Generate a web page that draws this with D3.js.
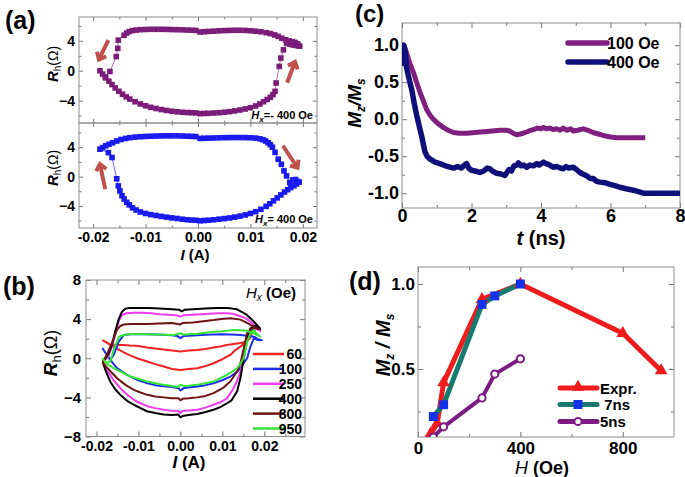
<!DOCTYPE html>
<html><head><meta charset="utf-8">
<script src="https://cdn.jsdelivr.net/npm/d3@7"></script>
<style>body{margin:0;background:#fff;} svg{display:block;}</style>
</head><body><svg id="c" width="685" height="477"></svg>
<script>
const FONT = '"Liberation Sans", Arial, sans-serif';

// ---------- Panel (a): Hall resistance loops, Hx = -400 Oe (purple) and +400 Oe (blue)
const loopNeg400 = [
 [0.0004,-5.75],[0.0012,-5.72],[0.002,-5.7],[0.003,-5.66],[0.004,-5.62],[0.005,-5.56],[0.006,-5.48],[0.007,-5.38],[0.008,-5.26],[0.009,-5.12],[0.010,-4.95],[0.011,-4.72],[0.0118,-4.45],[0.0125,-4.15],[0.0132,-3.85],[0.0138,-3.55],[0.0143,-3.2],[0.0147,-2.76],[0.0149,-1.64],
 [0.0155,0.58],[0.0158,1.7],[0.0163,2.8],[0.0169,3.7],
 [0.0175,3.55],[0.0179,3.5],[0.0183,3.45],[0.0187,3.4],[0.0191,3.35],[0.0194,3.3],
 [0.019,3.6],[0.0185,3.8],[0.018,3.9],[0.0174,4.0],[0.0167,4.15],[0.016,4.35],[0.0153,4.6],[0.0146,4.8],[0.0138,4.98],[0.013,5.1],[0.012,5.22],[0.011,5.3],[0.010,5.36],[0.009,5.4],[0.008,5.42],[0.007,5.42],[0.006,5.4],[0.005,5.38],[0.004,5.35],[0.003,5.3],[0.002,5.27],[0.0012,5.23],[0.0004,5.18],
 [-0.0004,5.4],[-0.0012,5.43],[-0.002,5.45],[-0.003,5.48],[-0.004,5.5],[-0.005,5.52],[-0.006,5.54],[-0.007,5.55],[-0.008,5.55],[-0.009,5.55],[-0.010,5.53],[-0.011,5.5],[-0.0118,5.45],[-0.0125,5.38],[-0.0131,5.25],[-0.0136,5.05],[-0.0141,4.75],
 [-0.0152,4.1],[-0.0153,3.0],[-0.0156,1.9],[-0.0168,-0.1],[-0.0177,-0.8],[-0.0187,0.0],
 [-0.0182,-0.45],[-0.0176,-0.95],[-0.017,-1.4],[-0.0164,-1.85],[-0.0158,-2.3],[-0.0151,-2.75],[-0.0144,-3.15],[-0.0137,-3.5],[-0.013,-3.8],[-0.012,-4.15],[-0.011,-4.45],[-0.010,-4.7],[-0.009,-4.9],[-0.008,-5.06],[-0.007,-5.2],[-0.006,-5.32],[-0.005,-5.42],[-0.004,-5.5],[-0.003,-5.56],[-0.002,-5.6],[-0.0012,-5.62],[-0.0004,-5.65]
];
const loopPos400 = [
 [-0.0004,-5.95],[-0.0012,-5.92],[-0.002,-5.88],[-0.003,-5.8],[-0.004,-5.7],[-0.005,-5.62],[-0.006,-5.52],[-0.007,-5.42],[-0.008,-5.3],[-0.009,-5.18],[-0.010,-5.02],[-0.011,-4.82],[-0.0118,-4.55],[-0.0125,-4.25],[-0.0131,-3.85],[-0.0136,-3.5],[-0.0141,-3.05],[-0.0145,-2.6],
 [-0.0149,-1.95],[-0.0152,-1.27],[-0.0155,-0.3],[-0.0164,2.6],[-0.0171,3.27],[-0.0187,3.73],
 [-0.0182,3.95],[-0.0176,4.2],[-0.017,4.4],[-0.0163,4.6],[-0.0155,4.85],[-0.0147,5.05],[-0.0138,5.2],[-0.013,5.3],[-0.012,5.38],[-0.011,5.43],[-0.010,5.47],[-0.009,5.5],[-0.008,5.52],[-0.007,5.54],[-0.006,5.55],[-0.005,5.55],[-0.004,5.55],[-0.003,5.53],[-0.002,5.5],[-0.0012,5.48],[-0.0004,5.45],
 [0.0004,5.2],[0.0012,5.22],[0.002,5.24],[0.003,5.26],[0.004,5.28],[0.005,5.3],[0.006,5.31],[0.007,5.32],[0.008,5.32],[0.009,5.31],[0.010,5.29],[0.011,5.24],[0.0118,5.15],[0.0124,5.02],[0.0129,4.85],[0.0134,4.6],[0.0138,4.35],[0.0142,4.0],
 [0.0147,3.3],[0.0153,2.37],[0.0159,1.68],[0.0164,0.78],[0.0169,0.1],[0.0175,-0.8],[0.0181,-0.45],[0.0186,-0.4],[0.019,-0.65],[0.0193,-0.75],
 [0.0188,-1.0],[0.0183,-1.25],[0.0177,-1.5],[0.0171,-1.78],[0.0165,-2.1],[0.0158,-2.5],[0.0151,-2.9],[0.0144,-3.3],[0.0137,-3.7],[0.013,-4.05],[0.012,-4.45],[0.011,-4.78],[0.010,-5.02],[0.009,-5.22],[0.008,-5.38],[0.007,-5.52],[0.006,-5.63],[0.005,-5.72],[0.004,-5.8],[0.003,-5.88],[0.002,-5.94],[0.0012,-5.98],[0.0004,-6.02]
];
// arrow annotations (tail, head) in data units
const arrowsTop = [[[-0.0171,4.1],[-0.0189,1.5]], [[0.0170,-1.6],[0.0185,1.2]]];
const arrowsBot = [[[-0.0177,-1.7],[-0.0187,1.7]], [[0.0162,4.2],[0.0190,1.2]]];
const aTicksX = [-0.02,-0.01,0,0.01,0.02];
const aTicksY = [-4,0,4];

// ---------- Panel (b): loops for several Hx
const bFields = ["60","100","250","400","800","950"];
const bColors = ["#ee2222","#1a30e6","#f03cf0","#000000","#6e1414","#33e633"];
const loop60 = [[-0.0186,1.85],[-0.0175,1.6],[-0.0167,1.4],[-0.015,1.36],[-0.0135,1.36],[-0.012,1.3],[-0.01,1.25],[-0.008,1.1],[-0.006,1.0],[-0.004,0.9],[-0.002,0.8],[0,0.7],[0.002,0.8],[0.004,0.85],[0.006,0.95],[0.0079,1.1],[0.0095,1.2],[0.011,1.35],[0.0127,1.45],[0.0143,1.55],[0.0155,1.7],[0.0165,2.2],[0.017,2.5],
 [0.0165,2.0],[0.0155,1.6],[0.0143,1.19],[0.013,0.8],[0.0119,0.34],[0.010,-0.1],[0.0079,-0.51],[0.006,-0.8],[0.004,-1.02],[0.002,-1.1],[0,-1.2],[-0.002,-1.1],[-0.004,-0.85],[-0.006,-0.6],[-0.0079,-0.34],[-0.01,-0.05],[-0.012,0.3],[-0.0135,0.6],[-0.015,0.95],[-0.0167,1.36],[-0.0186,1.85]];
const loop100 = [[-0.0186,1.05],[-0.0177,0.45],[-0.0167,-0.17],[-0.0159,-0.6],[-0.0151,-1.0],[-0.0135,-1.5],[-0.0119,-1.87],[-0.01,-2.25],[-0.0079,-2.55],[-0.006,-2.75],[-0.004,-2.86],[-0.002,-2.95],[-0.0004,-3.06],[0,-3.3],[0.0008,-3.05],[0.002,-3.0],[0.004,-2.89],[0.006,-2.75],[0.0079,-2.55],[0.01,-2.25],[0.0119,-1.87],[0.0135,-1.4],[0.0143,-1.02],[0.0151,-0.5],[0.0159,0],[0.0167,1.2],[0.0175,2.04],[0.0183,1.87],[0.0194,1.85],
 [0.0185,1.95],[0.0175,2.2],[0.016,2.3],[0.0143,2.38],[0.012,2.42],[0.01,2.45],[0.0079,2.42],[0.006,2.4],[0.004,2.35],[0.002,2.3],[0.0008,2.28],[0,2.05],[-0.0008,2.28],[-0.002,2.35],[-0.004,2.4],[-0.006,2.42],[-0.0079,2.45],[-0.01,2.45],[-0.0119,2.45],[-0.0135,2.38],[-0.0147,1.7],[-0.0159,0.34],[-0.0167,-0.17]];
const loop250 = [[-0.0185,-0.4],[-0.0172,0.2],[-0.0162,1.3],[-0.0153,2.8],[-0.0146,3.9],[-0.0138,4.45],[-0.013,4.6],[-0.011,4.65],[-0.009,4.65],[-0.007,4.6],[-0.005,4.5],[-0.003,4.45],[-0.001,4.4],[0,4.25],[0.0008,4.4],[0.003,4.45],[0.005,4.5],[0.007,4.55],[0.009,4.6],[0.011,4.6],[0.0125,4.55],[0.014,4.35],[0.0155,4.1],[0.0168,3.7],[0.018,3.2],[0.019,2.8],
 [0.018,3.0],[0.017,2.8],[0.0163,2.55],[0.0155,1.0],[0.0149,-0.3],[0.0143,-1.36],[0.0135,-2.3],[0.0127,-3.06],[0.0111,-4.1],[0.0095,-4.5],[0.0079,-4.76],[0.006,-5.05],[0.004,-5.27],[0.002,-5.35],[0.0005,-5.4],[0,-5.6],[-0.0005,-5.4],[-0.002,-5.38],[-0.004,-5.27],[-0.006,-5.1],[-0.0079,-4.9],[-0.0095,-4.6],[-0.0111,-4.25],[-0.0127,-3.7],[-0.0143,-3.06],[-0.016,-2.2],[-0.0175,-1.2],[-0.0185,-0.4]];
const loop400 = [[-0.0185,-0.4],[-0.0172,0.4],[-0.0163,1.4],[-0.0155,2.8],[-0.0147,4.0],[-0.014,4.7],[-0.0132,5.05],[-0.012,5.15],[-0.01,5.15],[-0.008,5.15],[-0.006,5.1],[-0.004,5.05],[-0.002,5.0],[-0.0003,4.95],[0.0003,4.8],[0.001,4.95],[0.003,5.0],[0.005,5.05],[0.007,5.1],[0.009,5.15],[0.0105,5.15],[0.012,5.1],[0.0135,5.0],[0.0148,4.7],[0.0159,4.4],[0.0175,3.75],[0.019,3.05],
 [0.0178,3.3],[0.0167,3.05],[0.0159,2.05],[0.0151,0],[0.0143,-2.05],[0.0135,-3.4],[0.0122,-4.3],[0.0111,-4.6],[0.0095,-5.0],[0.0079,-5.27],[0.006,-5.5],[0.004,-5.7],[0.002,-5.8],[0.0005,-5.9],[0,-6.05],[-0.0005,-5.75],[-0.002,-5.8],[-0.004,-5.75],[-0.006,-5.6],[-0.008,-5.42],[-0.0095,-5.1],[-0.011,-4.78],[-0.0127,-4.35],[-0.0143,-3.75],[-0.0155,-3.2],[-0.0167,-2.4],[-0.0178,-1.3],[-0.0185,-0.4]];
const loop800 = [[-0.0185,-0.4],[-0.0175,0.4],[-0.0163,1.6],[-0.0151,2.9],[-0.0143,3.3],[-0.0135,3.45],[-0.012,3.5],[-0.01,3.5],[-0.0079,3.5],[-0.005,3.55],[-0.002,3.6],[0,3.45],[0.0005,3.6],[0.003,3.65],[0.006,3.8],[0.0079,3.9],[0.0103,4.05],[0.012,4.1],[0.0143,3.95],[0.016,3.6],[0.0175,3.2],[0.019,2.95],
 [0.0178,3.1],[0.0167,2.9],[0.0159,2.55],[0.0151,1.0],[0.0143,-0.5],[0.0135,-1.36],[0.0119,-2.38],[0.0103,-3.0],[0.0079,-3.57],[0.006,-3.85],[0.004,-4.0],[0.002,-4.1],[0.0005,-4.15],[0,-4.3],[-0.0005,-4.1],[-0.002,-4.1],[-0.004,-4.0],[-0.006,-3.9],[-0.0079,-3.74],[-0.0095,-3.5],[-0.0111,-3.23],[-0.013,-2.75],[-0.0151,-2.04],[-0.0165,-1.4],[-0.0178,-0.8],[-0.0185,-0.4]];
const loop950 = [[-0.0186,0],[-0.0176,-0.5],[-0.0167,-0.3],[-0.0159,0.85],[-0.0151,1.7],[-0.0147,2.2],[-0.0135,2.38],[-0.0119,2.48],[-0.01,2.48],[-0.0079,2.45],[-0.006,2.42],[-0.004,2.4],[-0.0016,2.38],[0,2.55],[0.0008,2.4],[0.002,2.45],[0.004,2.5],[0.006,2.6],[0.0079,2.7],[0.01,2.75],[0.0119,2.85],[0.0135,2.89],[0.0159,2.8],[0.0175,2.55],[0.019,2.2],
 [0.0182,2.5],[0.0175,2.89],[0.0167,2.55],[0.0159,1.7],[0.0151,0],[0.0135,-1.02],[0.0111,-1.7],[0.0079,-2.38],[0.004,-2.72],[0.001,-2.85],[0,-2.7],[-0.0005,-2.95],[-0.004,-2.72],[-0.0079,-2.38],[-0.0119,-1.87],[-0.0159,-1.02],[-0.0176,-0.55]];
const bLoops = [loop60, loop100, loop250, loop400, loop800, loop950];
const bTicksX = [-0.02,-0.01,0,0.01,0.02];
const bTicksY = [-8,-4,0,4,8];

// ---------- Panel (c): Mz/Ms vs time
const c100 = [[0,1.0],[0.05,1.0],[0.13,0.9],[0.22,0.76],[0.33,0.63],[0.42,0.5],[0.52,0.36],[0.62,0.24],[0.71,0.13],[0.8,0.06],[0.9,0.0],[1.04,-0.06],[1.19,-0.11],[1.33,-0.15],[1.48,-0.18],[1.65,-0.19],[1.86,-0.19],[2.1,-0.18],[2.34,-0.17],[2.6,-0.16],[2.82,-0.15],[3.0,-0.15],[3.1,-0.16],[3.2,-0.19],[3.3,-0.21],[3.4,-0.2],[3.49,-0.19],[3.6,-0.17],[3.7,-0.15],[3.78,-0.14],[3.9,-0.12],[4.0,-0.13],[4.07,-0.11],[4.15,-0.13],[4.25,-0.12],[4.35,-0.14],[4.45,-0.13],[4.55,-0.15],[4.64,-0.12],[4.75,-0.15],[4.85,-0.13],[4.93,-0.16],[5.05,-0.15],[5.22,-0.13],[5.35,-0.15],[5.5,-0.18],[5.65,-0.2],[5.79,-0.22],[6.0,-0.24],[6.18,-0.25],[6.5,-0.25],[7.0,-0.25]];
const c400 = [[0,0.72],[0.02,0.9],[0.05,1.0],[0.08,0.95],[0.13,0.7],[0.2,0.55],[0.28,0.4],[0.35,0.22],[0.42,0.06],[0.5,-0.1],[0.57,-0.24],[0.62,-0.35],[0.66,-0.44],[0.72,-0.5],[0.81,-0.54],[0.95,-0.58],[1.09,-0.6],[1.25,-0.63],[1.48,-0.66],[1.6,-0.64],[1.7,-0.66],[1.8,-0.62],[1.86,-0.6],[1.92,-0.66],[2.0,-0.69],[2.1,-0.7],[2.24,-0.72],[2.35,-0.7],[2.45,-0.66],[2.53,-0.67],[2.6,-0.7],[2.72,-0.73],[2.85,-0.74],[2.96,-0.76],[3.02,-0.72],[3.08,-0.68],[3.15,-0.7],[3.22,-0.63],[3.3,-0.62],[3.35,-0.59],[3.42,-0.63],[3.5,-0.62],[3.59,-0.65],[3.68,-0.62],[3.78,-0.63],[3.88,-0.6],[3.95,-0.62],[4.07,-0.58],[4.15,-0.6],[4.25,-0.62],[4.35,-0.65],[4.45,-0.64],[4.55,-0.66],[4.64,-0.67],[4.72,-0.64],[4.8,-0.66],[4.93,-0.65],[5.02,-0.68],[5.12,-0.72],[5.2,-0.74],[5.3,-0.76],[5.41,-0.8],[5.5,-0.8],[5.6,-0.84],[5.7,-0.85],[5.85,-0.86],[5.99,-0.88],[6.15,-0.9],[6.27,-0.92],[6.45,-0.94],[6.66,-0.96],[6.8,-0.98],[6.94,-1.0],[7.5,-1.0],[8.0,-1.0]];
const cTicksX = [0,2,4,6,8];
const cTicksY = [-1.0,-0.5,0.0,0.5,1.0];

// ---------- Panel (d): Mz/Ms vs H
const dExprH = [50, 75, 100, 250, 400, 800, 950];
const dExprM = [0.12, 0.18, 0.42, 0.91, 1.0, 0.71, 0.49];
const d7nsH = [60, 100, 250, 300, 400];
const d7nsM = [0.22, 0.29, 0.88, 0.93, 1.0];
const d5nsH = [60, 100, 250, 300, 400];
const d5nsM = [0.10, 0.16, 0.33, 0.47, 0.56];
const dTicksX = [0, 400, 800];
const dTicksY = [0.5, 1.0];

// ================= drawing =================
const svg = d3.select("#c");
svg.append("rect").attr("width",685).attr("height",477).attr("fill","#fff");
const FRAME = "#8c8c8c";

function rich(parent, x, y, parts, opt = {}) {
  const t = parent.append("text").attr("x", x).attr("y", y)
    .attr("text-anchor", opt.anchor || "middle").attr("font-family", FONT).attr("fill", "#000")
    .style("white-space", "pre");
  if (opt.rotate) t.attr("transform", `rotate(${opt.rotate},${x},${y})`);
  parts.forEach(p => {
    const s = t.append("tspan").text(p.t).attr("font-size", p.fs)
      .attr("font-weight", p.fw || "bold").attr("font-style", p.fi ? "italic" : "normal");
    if (p.dy) s.attr("dy", p.dy);
  });
  return t;
}

function axisSet(orient, scale, pos, values, len, fmt, fs, pad) {
  const gen = {bottom: d3.axisBottom, top: d3.axisTop, left: d3.axisLeft, right: d3.axisRight}[orient](scale)
    .tickValues(values).tickSizeInner(-len).tickSizeOuter(0).tickPadding(pad || 0)
    .tickFormat(fmt || (() => ""));
  const horiz = orient === "bottom" || orient === "top";
  const a = svg.append("g").attr("transform", horiz ? `translate(0,${pos})` : `translate(${pos},0)`).call(gen);
  a.select(".domain").remove();
  a.selectAll("line").attr("stroke", "#777").attr("stroke-width", 1);
  a.selectAll("text").attr("font-size", fs).attr("font-weight", "bold").attr("fill", "#000").attr("font-family", FONT);
  return a;
}
function boxTicks(x, y, xMaj, xMin, yMaj, yMin, L) {
  const [x0, x1] = x.range(), [y0, y1] = y.range();
  axisSet("bottom", x, y0, xMaj, L); axisSet("bottom", x, y0, xMin, L * 0.6);
  axisSet("top", x, y1, xMaj, L); axisSet("top", x, y1, xMin, L * 0.6);
  axisSet("left", y, x0, yMaj, L); axisSet("left", y, x0, yMin, L * 0.6);
  axisSet("right", y, x1, yMaj, L); axisSet("right", y, x1, yMin, L * 0.6);
}
function frame(x, y) {
  const [x0, x1] = x.range(), [y0, y1] = y.range();
  svg.append("rect").attr("x", x0).attr("y", y1).attr("width", x1 - x0).attr("height", y0 - y1)
    .attr("fill", "none").attr("stroke", FRAME).attr("stroke-width", 1);
}
function clip(id, x, y) {
  const [x0, x1] = x.range(), [y0, y1] = y.range();
  svg.append("clipPath").attr("id", id).append("rect").attr("x", x0).attr("y", y1).attr("width", x1 - x0).attr("height", y0 - y1);
  return svg.append("g").attr("clip-path", `url(#${id})`);
}

// ---- Panel (a)
const xa = d3.scaleLinear().domain([-0.0227, 0.0227]).range([79, 317]);
const ya1 = d3.scaleLinear().domain([-7, 7.2]).range([123, 17]);
const ya2 = d3.scaleLinear().domain([-7, 7.3]).range([228, 123]);
const aMinX = [-0.015, -0.005, 0.005, 0.015], aMinY = [-6, -2, 2, 6];
boxTicks(xa, ya1, aTicksX, aMinX, aTicksY, aMinY, 4);
boxTicks(xa, ya2, aTicksX, aMinX, aTicksY, aMinY, 4);
axisSet("left", ya1, 79, aTicksY, 0, d => d3.format("d")(d), 14, 4);
axisSet("left", ya2, 79, aTicksY, 0, d => d3.format("d")(d), 14, 4);
axisSet("bottom", xa, 228, aTicksX, 0, d => d.toFixed(2), 14, 4);
frame(xa, ya1); frame(xa, ya2);

function drawMarkerLoop(data, x, y, color) {
  const g = svg.append("g");
  g.append("path").datum(data).attr("d", d3.line().x(d => x(d[0])).y(d => y(d[1])))
    .attr("fill", "none").attr("stroke", color).attr("stroke-width", 0.8).attr("opacity", 0.8);
  g.selectAll(null).data(data).enter().append("rect")
    .attr("x", d => x(d[0]) - 2.8).attr("y", d => y(d[1]) - 2.8).attr("width", 5.6).attr("height", 5.6)
    .attr("fill", color);
}
drawMarkerLoop(loopNeg400, xa, ya1, "#7b1c7b");
drawMarkerLoop(loopPos400, xa, ya2, "#1a1af0");

function drawArrows(list, x, y) {
  list.forEach(([t, h]) => {
    const x1 = x(t[0]), y1 = y(t[1]), x2 = x(h[0]), y2 = y(h[1]);
    const ang = Math.atan2(y2 - y1, x2 - x1), L = 8, a = 0.7;
    svg.append("line").attr("x1", x1).attr("y1", y1).attr("x2", x2 - 1.5 * Math.cos(ang)).attr("y2", y2 - 1.5 * Math.sin(ang))
      .attr("stroke", "#c0504d").attr("stroke-width", 4);
    svg.append("polyline").attr("points", [
      [x2 - L * Math.cos(ang - a), y2 - L * Math.sin(ang - a)], [x2, y2],
      [x2 - L * Math.cos(ang + a), y2 - L * Math.sin(ang + a)]].map(p => p.join(",")).join(" "))
      .attr("fill", "none").attr("stroke", "#c0504d").attr("stroke-width", 4).attr("stroke-linejoin", "miter");
  });
}
drawArrows(arrowsTop, xa, ya1);
drawArrows(arrowsBot, xa, ya2);

rich(svg, 313, 119, [{t: "H", fs: 11, fi: 1}, {t: "x", fs: 8, fi: 1, dy: 3}, {t: "=- 400 Oe", fs: 11, dy: -3}], {anchor: "end"});
rich(svg, 313, 223, [{t: "H", fs: 11, fi: 1}, {t: "x", fs: 8, fi: 1, dy: 3}, {t: "= 400 Oe", fs: 11, dy: -3}], {anchor: "end"});
rich(svg, 58, 64, [{t: "R", fs: 15, fi: 1}, {t: "h", fs: 10, fi: 0, fw: "normal", dy: 3}, {t: "(Ω)", fs: 14, fw: "normal", dy: -3}], {rotate: -90});
rich(svg, 58, 168, [{t: "R", fs: 15, fi: 1}, {t: "h", fs: 10, fi: 0, fw: "normal", dy: 3}, {t: "(Ω)", fs: 14, fw: "normal", dy: -3}], {rotate: -90});
rich(svg, 195, 260, [{t: "I", fs: 15, fi: 1}, {t: " (A)", fs: 15}]);
rich(svg, 5, 29, [{t: "(a)", fs: 25}], {anchor: "start"});

// ---- Panel (b)
const xb = d3.scaleLinear().domain([-0.0225, 0.0297]).range([86, 305]);
const yb = d3.scaleLinear().domain([-8, 8]).range([436.5, 280]);
boxTicks(xb, yb, [-0.02, -0.01, 0, 0.01, 0.02], [-0.015, -0.005, 0.005, 0.015, 0.025], bTicksY, [-6, -2, 2, 6], 5);
axisSet("left", yb, 86, bTicksY, 0, d => d3.format("d")(d), 15, 5);
axisSet("bottom", xb, 436.5, bTicksX, 0, d => d.toFixed(2), 14, 5);
frame(xb, yb);
const gb = clip("clipb", xb, yb);
const lineB = d3.line().x(d => xb(d[0])).y(d => yb(d[1]));
bLoops.forEach((lp, i) => {
  gb.append("path").datum(lp).attr("d", lineB).attr("fill", "none")
    .attr("stroke", bColors[i]).attr("stroke-width", 2).attr("stroke-linejoin", "round");
});
// legend (b)
rich(svg, 271, 298, [{t: "H", fs: 15, fi: 1, fw: "normal"}, {t: "x", fs: 10, fi: 1, fw: "normal", dy: 3}, {t: " (Oe)", fs: 15, dy: -3}]);
const legBY = d3.scaleLinear().domain([0, 5]).range([354, 428.5]);
bFields.forEach((f, i) => {
  svg.append("line").attr("x1", 253).attr("x2", 284).attr("y1", legBY(i)).attr("y2", legBY(i))
    .attr("stroke", bColors[i]).attr("stroke-width", 2.5);
  rich(svg, 302, legBY(i) + 5, [{t: f, fs: 14}], {anchor: "end"});
});
rich(svg, 57, 353, [{t: "R", fs: 19, fi: 1}, {t: "h", fs: 13, fw: "normal", dy: 4}, {t: "(Ω)", fs: 18, fw: "normal", dy: -4}], {rotate: -90});
rich(svg, 189, 468, [{t: "I", fs: 17, fi: 1}, {t: " (A)", fs: 17}]);
rich(svg, 3, 295, [{t: "(b)", fs: 25}], {anchor: "start"});

// ---- Panel (c)
const xc = d3.scaleLinear().domain([0, 8]).range([402, 680]);
const yc = d3.scaleLinear().domain([-1.2, 1.3]).range([208, 23]);
boxTicks(xc, yc, cTicksX, [1, 3, 5, 7], cTicksY, [-0.75, -0.25, 0.25, 0.75], 5);
axisSet("left", yc, 402, cTicksY, 0, d => d.toFixed(1), 18, 3);
axisSet("bottom", xc, 208, cTicksX, 0, d3.format("d"), 18, 1);
frame(xc, yc);
const gc = clip("clipc", xc, yc);
const lineC = d3.line().x(d => xc(d[0])).y(d => yc(d[1]));
gc.append("path").datum(c100).attr("d", lineC).attr("fill", "none").attr("stroke", "#7f1f7f").attr("stroke-width", 5).attr("stroke-linejoin", "round");
gc.append("path").datum(c400).attr("d", lineC).attr("fill", "none").attr("stroke", "#10107a").attr("stroke-width", 5.5).attr("stroke-linejoin", "round");
[["100 Oe", "#7f1f7f", 43], ["400 Oe", "#10107a", 62]].forEach(([t, c, y]) => {
  svg.append("line").attr("x1", 568).attr("x2", 607).attr("y1", y).attr("y2", y).attr("stroke", c).attr("stroke-width", 5.5).attr("stroke-linecap", "round");
  rich(svg, 607, y + 6, [{t: t, fs: 16}], {anchor: "start"});
});
rich(svg, 361, 103, [{t: "M", fs: 19, fi: 1}, {t: "z", fs: 12, fi: 1, dy: 4}, {t: "/M", fs: 19, fi: 1, dy: -4}, {t: "s", fs: 12, fi: 1, dy: 4}], {rotate: -90});
rich(svg, 541, 245, [{t: "t", fs: 20, fi: 1}, {t: " (ns)", fs: 20}]);
rich(svg, 355, 22, [{t: "(c)", fs: 24}], {anchor: "start"});

// ---- Panel (d)
const xd = d3.scaleLinear().domain([0, 1000]).range([418, 674]);
const yd = d3.scaleLinear().domain([0.1, 1.1]).range([437, 267]);
boxTicks(xd, yd, dTicksX, [200, 600], dTicksY, [0.25, 0.75], 5);
axisSet("left", yd, 418, dTicksY, 0, d => d.toFixed(1), 17, 3);
axisSet("bottom", xd, 437, dTicksX, 0, d3.format("d"), 17, 5);
frame(xd, yd);
const gd = clip("clipd", xd, yd);
const lineD = d3.line().x(d => xd(d[0])).y(d => yd(d[1]));
const zip = (a, b) => a.map((v, i) => [v, b[i]]);
const expr = zip(dExprH, dExprM), s7 = zip(d7nsH, d7nsM), s5 = zip(d5nsH, d5nsM);
const tri = d3.symbol().type(d3.symbolTriangle).size(70);
function seriesD(g, data, lineColor, sw) {
  g.append("path").datum(data).attr("d", lineD).attr("fill", "none").attr("stroke", lineColor).attr("stroke-width", sw).attr("stroke-linejoin", "round");
}
seriesD(gd, s5, "#7a1a82", 4);
seriesD(gd, expr, "#ee1c1c", 5);
seriesD(gd, s7, "#167a6e", 5);
gd.selectAll(null).data(expr).enter().append("path").attr("d", tri)
  .attr("transform", d => `translate(${xd(d[0])},${yd(d[1])})`).attr("fill", "#ee1c1c");
gd.selectAll(null).data(s7).enter().append("rect")
  .attr("x", d => xd(d[0]) - 4.5).attr("y", d => yd(d[1]) - 4.5).attr("width", 9).attr("height", 9).attr("fill", "#1432e6");
gd.selectAll(null).data(s5).enter().append("circle")
  .attr("cx", d => xd(d[0])).attr("cy", d => yd(d[1])).attr("r", 3.6).attr("fill", "#fff").attr("stroke", "#7a1a82").attr("stroke-width", 2);
// legend (d)
const legD = [["Expr.", "#ee1c1c", "tri", 388], ["\u00a07ns", "#167a6e", "sq", 404.5], ["5ns", "#7a1a82", "ci", 421.5]];
legD.forEach(([t, c, m, y]) => {
  svg.append("line").attr("x1", 560).attr("x2", 597).attr("y1", y).attr("y2", y).attr("stroke", c).attr("stroke-width", 5).attr("stroke-linecap", "round");
  if (m === "tri") svg.append("path").attr("d", tri).attr("transform", `translate(578,${y - 1})`).attr("fill", "#ee1c1c");
  if (m === "sq") svg.append("rect").attr("x", 578 - 4.5).attr("y", y - 4.5).attr("width", 9).attr("height", 9).attr("fill", "#1432e6");
  if (m === "ci") svg.append("circle").attr("cx", 578).attr("cy", y).attr("r", 3.6).attr("fill", "#fff").attr("stroke", "#7a1a82").attr("stroke-width", 2);
  rich(svg, 600, y + 5.5, [{t: t, fs: 15}], {anchor: "start"});
});
rich(svg, 390, 345, [{t: "M", fs: 20, fi: 1}, {t: "z", fs: 12, fi: 1, dy: 4}, {t: " / M", fs: 20, fi: 1, dy: -4}, {t: "s", fs: 12, fi: 1, dy: 4}], {rotate: -90});
rich(svg, 542, 474, [{t: "H", fs: 18, fi: 1, fw: "normal"}, {t: " (Oe)", fs: 18}]);
rich(svg, 349, 290, [{t: "(d)", fs: 25}], {anchor: "start"});
</script>
</body></html>
